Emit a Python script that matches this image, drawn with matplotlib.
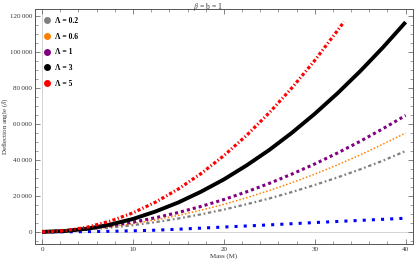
import matplotlib
matplotlib.use("Agg")
import matplotlib.pyplot as plt
from matplotlib.lines import Line2D
from matplotlib.ticker import MultipleLocator, FuncFormatter

plt.rcParams['font.family'] = ['Liberation Serif', 'DejaVu Serif']
plt.rcParams['mathtext.fontset'] = 'stix'

# --- data ---
mass = [0, 2.5, 5, 7.5, 10, 12.5, 15, 17.5, 20, 22.5, 25, 27.5, 30, 32.5, 35, 37.5, 40]
mass_red = [0, 2.5, 5, 7.5, 10, 12.5, 15, 17.5, 20, 22.5, 25, 27.5, 30, 32.5, 33.2]

defl_gray = [0, 470, 1240, 2350, 3730, 5450, 7450, 9800, 12400, 15400, 18600,
             22200, 26100, 30300, 34800, 39600, 45000]
defl_orange = [0, 570, 1530, 2890, 4590, 6700, 9180, 12100, 15300, 19000, 23000,
               27400, 32100, 37300, 42800, 48800, 55000]
defl_purple = [0, 675, 1800, 3400, 5400, 7900, 10800, 14200, 18000, 22300, 27000,
               32200, 37800, 43900, 50400, 57400, 64800]
defl_black = [0, 460, 1800, 4100, 7200, 11400, 16400, 22400, 29200, 37000, 45600,
              55200, 65700, 77100, 89400, 102600, 116700]
defl_red = [0, 660, 2650, 6000, 10600, 16600, 23900, 32500, 42400, 53700, 66300,
            80200, 95400, 112000, 116800]
defl_blue = [0, 40, 150, 330, 600, 950, 1500, 2100, 2700, 3300, 3900,
             4550, 5200, 5800, 6400, 7000, 7600]

legend_labels = ["Λ = 0.2", "Λ = 0.6", "Λ = 1", "Λ = 3", "Λ = 5"]
legend_colors = ["#808080", "#ff8000", "#800080", "black", "red"]

fig = plt.figure(figsize=(4.15, 2.64), dpi=100)
ax = fig.add_axes([0.084, 0.076, 0.911, 0.890])

# Mathematica-style axes through the origin
ax.axhline(0, color='#cccccc', lw=0.6, zorder=0)
ax.axvline(0, color='#cccccc', lw=0.6, zorder=0)

ax.plot(mass, defl_blue, color='blue', lw=2.2, ls=(0, (1, 2)),
        dash_capstyle='butt')
ax.plot(mass, defl_gray, color='#808080', lw=1.6, ls=(0, (1.5, 1.2, 0.8, 1.2)),
        dash_capstyle='butt')
ax.plot(mass, defl_orange, color='#ff8000', lw=1.1, ls=(0, (1, 1.3)),
        dash_capstyle='butt')
ax.plot(mass, defl_purple, color='#800080', lw=2.2, ls=(0, (1, 1)),
        dash_capstyle='butt')
ax.plot(mass, defl_black, color='black', lw=2.8, solid_capstyle='butt')
ax.plot(mass_red, defl_red, color='red', lw=2.3, ls=(0, (1, 0.7, 0.4, 0.7)),
        dash_capstyle='butt')

ax.set_xlim(-0.8, 40.8)
ax.set_ylim(-6700, 124000)

frame_col = '#555555'
for s in ax.spines.values():
    s.set_color(frame_col)
    s.set_linewidth(0.7)

ax.xaxis.set_major_locator(MultipleLocator(10))
ax.xaxis.set_minor_locator(MultipleLocator(2))
ax.yaxis.set_major_locator(MultipleLocator(20000))
ax.yaxis.set_minor_locator(MultipleLocator(5000))
ax.yaxis.set_major_formatter(FuncFormatter(
    lambda v, p: "0" if v == 0 else f"{int(v)//1000}\u2009{int(v)%1000:03d}"))

ax.tick_params(which='both', direction='in', top=True, right=True,
               color=frame_col, labelsize=5, labelcolor='#333333', pad=2)
ax.tick_params(which='major', length=3.5, width=0.5)
ax.tick_params(which='minor', length=2, width=0.4)

ax.set_xlabel("Mass (M)", fontsize=5, color='#333333', labelpad=1)
ax.set_ylabel(r"Deflection angle ($\hat{\delta}$)", fontsize=5, color='#333333')
ax.yaxis.set_label_coords(-0.064, 0.5)
fig.text(0.5, 0.995, r"$\beta$ = b = 1", fontsize=5.5, color='#333333',
         ha='center', va='top')

handles = [Line2D([], [], ls='none', marker='o', markersize=5,
                  color=c, markeredgewidth=0) for c in legend_colors]
leg = ax.legend(handles, legend_labels, loc='upper left',
                bbox_to_anchor=(0.01, 0.985), frameon=False,
                prop={'size': 5.5, 'weight': 'bold'},
                handletextpad=0.6, labelspacing=1.0, handlelength=1.0,
                borderaxespad=0.2)

fig.savefig("out.png", dpi=100)
